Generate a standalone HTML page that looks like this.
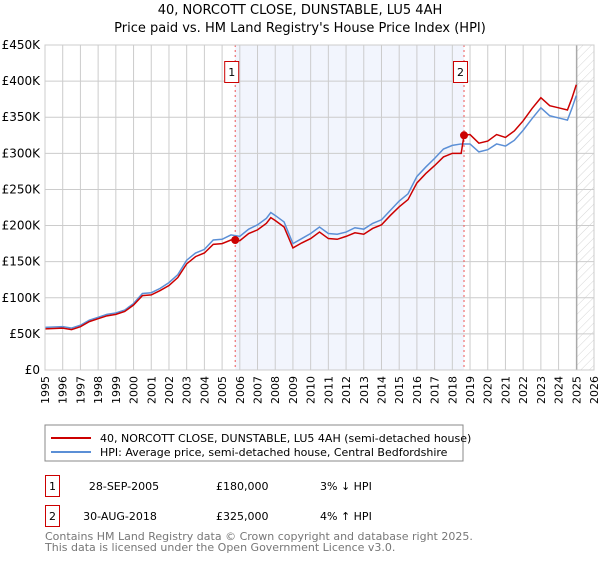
<!DOCTYPE html>
<html><head><meta charset="utf-8"><style>
body{margin:0;background:#fff;font-family:"DejaVu Sans","Liberation Sans",sans-serif;}
svg text{font-family:"DejaVu Sans","Liberation Sans",sans-serif;}
</style></head><body>
<svg id="chart" width="600" height="560" xmlns="http://www.w3.org/2000/svg">
<text x="300" y="14" font-size="13" text-anchor="middle" fill="#000">40, NORCOTT CLOSE, DUNSTABLE, LU5 4AH</text>
<text x="300" y="32" font-size="13" text-anchor="middle" fill="#000">Price paid vs. HM Land Registry's House Price Index (HPI)</text>
<defs><pattern id="hatch" width="6" height="6" patternUnits="userSpaceOnUse" patternTransform="rotate(45)"><line x1="0" y1="0" x2="0" y2="6" stroke="#ccc" stroke-width="0.8"/></pattern></defs>
<g id="plot"></g>
<rect x="45" y="425" width="418" height="36" fill="#fff" stroke="#888"/>
<line x1="51" y1="438" x2="91" y2="438" stroke="#cc0000" stroke-width="2"/>
<text x="100" y="442" font-size="11">40, NORCOTT CLOSE, DUNSTABLE, LU5 4AH (semi-detached house)</text>
<line x1="51" y1="452" x2="91" y2="452" stroke="#5b8fd6" stroke-width="2"/>
<text x="100" y="456" font-size="11">HPI: Average price, semi-detached house, Central Bedfordshire</text>
<rect x="45.5" y="475.5" width="14" height="21" fill="none" stroke="#cc0000"/>
<text x="52.5" y="490" font-size="11" text-anchor="middle">1</text>
<text x="124" y="490" font-size="11" text-anchor="middle">28-SEP-2005</text>
<text x="216" y="490" font-size="11">£180,000</text>
<text x="320" y="490" font-size="11">3% ↓ HPI</text>
<rect x="45.5" y="505.5" width="14" height="21" fill="none" stroke="#cc0000"/>
<text x="52.5" y="520" font-size="11" text-anchor="middle">2</text>
<text x="120" y="520" font-size="11" text-anchor="middle">30-AUG-2018</text>
<text x="216" y="520" font-size="11">£325,000</text>
<text x="320" y="520" font-size="11">4% ↑ HPI</text>
<text x="45" y="540" font-size="11" fill="#777">Contains HM Land Registry data © Crown copyright and database right 2025.</text>
<text x="45" y="551" font-size="11" fill="#777">This data is licensed under the Open Government Licence v3.0.</text>
</svg>
<script>
const hpiYears=[1995,1996,1996.5,1997,1997.5,1998,1998.5,1999,1999.5,2000,2000.5,2001,2001.5,2002,2002.5,2003,2003.5,2004,2004.5,2005,2005.5,2006,2006.5,2007,2007.5,2007.75,2008,2008.5,2009,2009.5,2010,2010.5,2011,2011.5,2012,2012.5,2013,2013.5,2014,2014.5,2015,2015.5,2016,2016.5,2017,2017.5,2018,2018.5,2019,2019.5,2020,2020.5,2021,2021.5,2022,2022.5,2023,2023.5,2024,2024.5,2024.75,2025];
const hpiValues=[59,60,58,62,69,73,77,79,83,92,106,107,113,121,132,152,162,167,180,181,187,185,195,201,210,218,214,205,175,182,189,198,189,188,191,197,195,203,208,221,234,244,268,281,293,306,311,313,313,302,305,313,310,318,332,348,363,352,349,346,362,380];
const priceYears=[1995,1996,1996.5,1997,1997.5,1998,1998.5,1999,1999.5,2000,2000.5,2001,2001.5,2002,2002.5,2003,2003.5,2004,2004.5,2005,2005.5,2005.74,2006,2006.5,2007,2007.5,2007.75,2008,2008.5,2009,2009.5,2010,2010.5,2011,2011.5,2012,2012.5,2013,2013.5,2014,2014.5,2015,2015.5,2016,2016.5,2017,2017.5,2018,2018.5,2018.66,2019,2019.5,2020,2020.5,2021,2021.5,2022,2022.5,2023,2023.5,2024,2024.5,2024.75,2025];
const priceValues=[57,58,56,60,67,71,75,77,81,90,103,104,110,117,128,147,157,162,174,175,180,180,179,189,194,203,211,207,198,169,176,182,191,182,181,185,190,188,196,201,214,226,236,259,272,283,295,300,300,325,326,314,317,326,322,331,345,362,377,366,363,360,376,395];
const saleYears=[2005.74,2018.66];
const saleValues=[180,325];
const saleLabels=["1","2"];
const yTicks=[0,50,100,150,200,250,300,350,400,450];
const yTickLabels=["£0","£50K","£100K","£150K","£200K","£250K","£300K","£350K","£400K","£450K"];
const xTicks=[1995,1996,1997,1998,1999,2000,2001,2002,2003,2004,2005,2006,2007,2008,2009,2010,2011,2012,2013,2014,2015,2016,2017,2018,2019,2020,2021,2022,2023,2024,2025,2026];

const X0=45,X1=594,Y0=370,Y1=45;
const x=v=>X0+(v-1995)/31*(X1-X0);
const y=v=>Y0-v/450*(Y0-Y1);
const NS="http://www.w3.org/2000/svg";
const g=document.getElementById('plot');
function mk(t,a){const e=document.createElementNS(NS,t);for(const k in a)e.setAttribute(k,a[k]);g.appendChild(e);return e;}
let e;
e=mk('rect',{x:x(saleYears[0]),y:Y1,width:x(saleYears[1])-x(saleYears[0]),height:Y0-Y1,fill:'#f2f5fd'});


e=mk('rect',{x:x(2025.03),y:Y1,width:X1-x(2025.03),height:Y0-Y1,fill:'url(#hatch)'});


xTicks.forEach((t,i)=>{
 e=mk('line',{x1:x(t),x2:x(t),y1:Y1,y2:Y0,stroke:'#ccc','stroke-width':1});
 
 
 e=mk('text',{x:0,y:0,'font-size':11,'text-anchor':'end',transform:`translate(${x(t)+4},${Y0+6}) rotate(-90)`});
 e.textContent=t;
 
 
});
yTicks.forEach((t,i)=>{
 e=mk('line',{x1:X0,x2:X1,y1:y(t),y2:y(t),stroke:'#ccc','stroke-width':1});
 
 
 e=mk('text',{x:X0-5,y:y(t)+4,'font-size':12,'text-anchor':'end'});
 e.textContent=yTickLabels[i];
 
 
});
e=mk('line',{x1:x(2025.03),x2:x(2025.03),y1:Y1,y2:Y0,stroke:'#999','stroke-width':1});


saleYears.forEach((s,i)=>{
 e=mk('line',{x1:x(s),x2:x(s),y1:Y1,y2:Y0,stroke:'#e55','stroke-width':1,'stroke-dasharray':'2,3'});
 
 
});
e=mk('polyline',{points:hpiYears.map((t,i)=>x(t)+','+y(hpiValues[i])).join(' '),fill:'none',stroke:'#5b8fd6','stroke-width':1.5});


e=mk('polyline',{points:priceYears.map((t,i)=>x(t)+','+y(priceValues[i])).join(' '),fill:'none',stroke:'#cc0000','stroke-width':1.5});


saleYears.forEach((s,i)=>{
 e=mk('circle',{cx:x(s),cy:y(saleValues[i]),r:4,fill:'#cc0000'});
 
 
 e=mk('rect',{x:x(s)-10.5,y:61.5,width:14,height:21,fill:'#fff',stroke:'#cc0000'});
 
 
 e=mk('text',{x:x(s)-3.5,y:76,'font-size':11,'text-anchor':'middle'});
 e.textContent=saleLabels[i];
 
 
});
e=mk('rect',{x:X0,y:Y1,width:X1-X0,height:Y0-Y1,fill:'none',stroke:'#ccc'});


</script>
</body></html>
